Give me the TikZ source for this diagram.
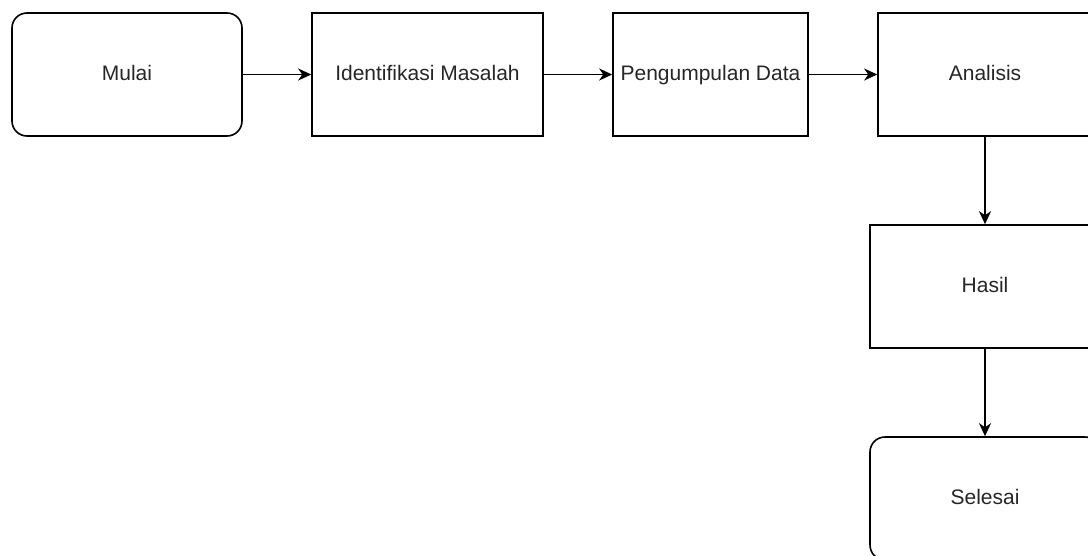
\documentclass[tikz,border=0pt]{standalone}
\usepackage{fontspec}
\setmainfont{Liberation Sans}
\usetikzlibrary{arrows.meta}
\begin{document}
\begin{tikzpicture}[x=1pt, y=-1pt,
    box/.style={rectangle, draw, line width=1.6pt, minimum height=123pt, inner sep=0pt, text height=15pt, text depth=4pt, align=center, text=black!85, font=\fontsize{21}{25}\selectfont},
    terminal/.style={box, rounded corners=15pt},
    arrow/.style={-{Stealth[length=13pt, width=12pt, inset=4pt]}, line width=1.6pt}]
      \useasboundingbox (0,0) rectangle (1088,555);
      \clip (0,0) rectangle (1088,555);
      % Nodes
      \node[terminal, minimum width=230pt] at (127, 74.5) (mulai) {Mulai};
      \node[box, minimum width=231pt] at (427.5, 74.5) (identifikasi) {Identifikasi Masalah};
      \node[box, minimum width=195pt] at (710.5, 74.5) (pengumpulan) {Pengumpulan Data};
      \node[box, minimum width=214pt] at (985, 74.5) (analisis) {Analisis};
      \node[box, minimum width=230pt] at (985, 286.5) (hasil) {Hasil};
      \node[terminal, minimum width=230pt] at (985, 498.5) (selesai) {Selesai};

      \draw[arrow] (mulai) -- (identifikasi);
      \draw[arrow] (identifikasi) -- (pengumpulan);
      \draw[arrow] (pengumpulan) -- (analisis);
      \draw[arrow] (analisis) -- (hasil);
      \draw[arrow] (hasil) -- (selesai);
    \end{tikzpicture}
\end{document}
